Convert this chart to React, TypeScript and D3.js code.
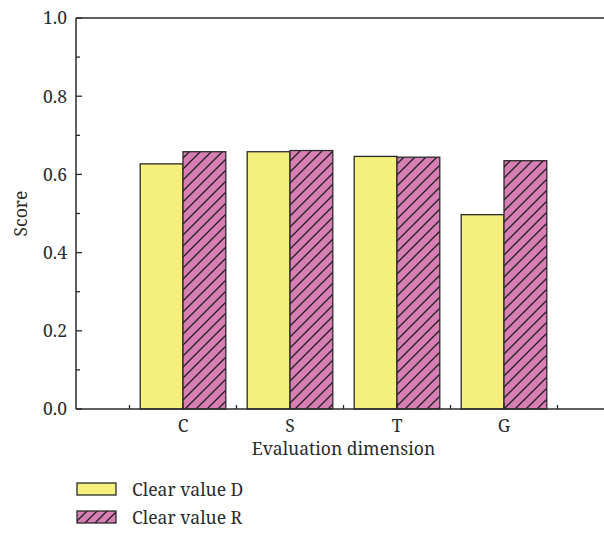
import React from "react";
import * as d3 from "d3";

const categories = ["C", "S", "T", "G"];
const clearD = [0.627, 0.658, 0.646, 0.497];
const clearR = [0.658, 0.661, 0.644, 0.635];
const yTicks = [0, 0.2, 0.4, 0.6, 0.8, 1.0];
const seriesNames = ["Clear value D", "Clear value R"];

const W = 604, H = 535;
const left = 76, top = 18, bottom = 409;
const FONT = "Noto Serif, Liberation Serif, serif";

export default function App() {
  const x = d3.scaleLinear().domain([0, 5]).range([left, left + 535]);
  const y = d3.scaleLinear().domain([0, 1]).range([bottom, top]);
  const bw = 42.8;
  const minorY = d3.range(0.1, 1.0, 0.2);
  const minorX = [0.5, 1.5, 2.5, 3.5, 4.5];
  const yellow = "#F5F07B";
  const pink = "#D77FB5";
  const stroke = "#2a2a2a";
  const txt = { fontFamily: FONT, fontSize: 17.5, fill: "#2a2a2a" } as React.CSSProperties;
  return (
    <svg width={W} height={H} style={{ position: "absolute", left: 0, top: 0, background: "#fff" }}>
      <defs>
        <pattern id="hatch" patternUnits="userSpaceOnUse" width="11" height="11">
          <rect width="11" height="11" fill={pink} />
          <path d="M-1,12 L12,-1 M-2,2 L2,-2 M9,13 L13,9" stroke="#1e1e1e" strokeWidth="1.3" />
        </pattern>
        <pattern id="hatchL" patternUnits="userSpaceOnUse" width="10" height="10" x="0" y="0">
          <rect width="10" height="10" fill={pink} />
          <path d="M-1,11 L11,-1 M-2,2 L2,-2 M8,12 L12,8" stroke="#1e1e1e" strokeWidth="1.3" />
        </pattern>
      </defs>
      {categories.map((c, i) => (
        <g key={c}>
          <rect x={x(i + 1) - bw} y={y(clearD[i])} width={bw} height={bottom - y(clearD[i])}
            fill={yellow} stroke={stroke} strokeWidth={1.3} />
          <rect x={x(i + 1)} y={y(clearR[i])} width={bw} height={bottom - y(clearR[i])}
            fill="url(#hatch)" stroke={stroke} strokeWidth={1.3} />
        </g>
      ))}
      <line x1={left} y1={top} x2={W} y2={top} stroke={stroke} strokeWidth={1.5} />
      <line x1={left} y1={top} x2={left} y2={bottom} stroke={stroke} strokeWidth={1.5} />
      <line x1={left} y1={bottom} x2={W} y2={bottom} stroke={stroke} strokeWidth={1.5} />
      {yTicks.map((t) => (
        <g key={t}>
          <line x1={left} x2={left + 6} y1={y(t)} y2={y(t)} stroke={stroke} strokeWidth={1.3} />
          <text x={left - 9} y={y(t)} dy="0.36em" textAnchor="end" style={txt}>
            {t.toFixed(1)}
          </text>
        </g>
      ))}
      {minorY.map((t) => (
        <line key={t} x1={left} x2={left + 4} y1={y(t)} y2={y(t)} stroke={stroke} strokeWidth={1.3} />
      ))}
      {categories.map((c, i) => (
        <g key={c}>
          <line x1={x(i + 1)} x2={x(i + 1)} y1={bottom} y2={bottom - 6} stroke={stroke} strokeWidth={1.3} />
          <text x={x(i + 1)} y={bottom + 23} textAnchor="middle" style={txt}>{c}</text>
        </g>
      ))}
      {minorX.map((t) => (
        <line key={t} x1={x(t)} x2={x(t)} y1={bottom} y2={bottom - 4} stroke={stroke} strokeWidth={1.3} />
      ))}
      <text x={x(2.5)} y={bottom + 46} textAnchor="middle" style={txt}>
        Evaluation dimension
      </text>
      <text transform={`translate(27,${(top + bottom) / 2}) rotate(-90)`} textAnchor="middle" style={txt}>Score</text>
      {seriesNames.map((s, i) => (
        <g key={s} transform={`translate(77,${483 + i * 28})`}>
          <rect width={39} height={12} fill={i === 0 ? yellow : "url(#hatchL)"} stroke={stroke} strokeWidth={1.3} />
          <text x={55} y={13} style={txt}>{s}</text>
        </g>
      ))}
    </svg>
  );
}
